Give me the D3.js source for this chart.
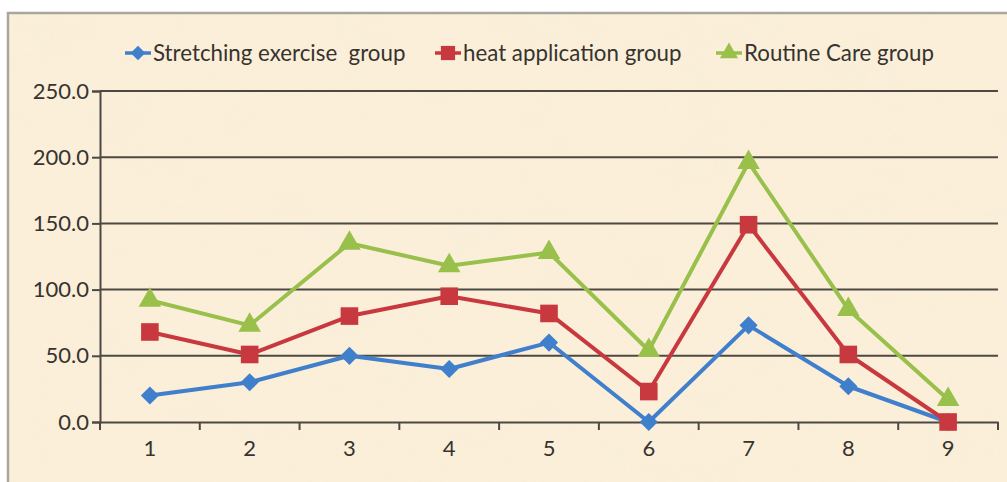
<!DOCTYPE html>
<head>
  <meta charset="utf-8">
  <title>Groups chart</title>
  <style>
    body { margin: 0; background: #fff; }
    text { font-family: Lato, "Open Sans", sans-serif; fill: #37332f; }
  </style>
</head>
<body>
  <script src="https://d3js.org/d3.v7.min.js"></script>
  <script>
  const categories = ["1", "2", "3", "4", "5", "6", "7", "8", "9"];
  const yTicks = [0, 50, 100, 150, 200, 250];
  const stretching = [20, 30, 50, 40, 60, 0, 73, 27, 0];
  const heat = [68, 51, 80, 95, 82, 23, 149, 51, 0];
  const routine = [92, 73, 135, 118, 128, 54, 196, 85, 17];
  const seriesNames = ["Stretching exercise  group", "heat application group", "Routine Care group"];

  // diamond = square turned 45deg
  const diamond = {
    draw(ctx, size) {
      const r = Math.sqrt(size / 2);
      ctx.moveTo(0, -r); ctx.lineTo(r, 0); ctx.lineTo(0, r); ctx.lineTo(-r, 0); ctx.closePath();
    }
  };

  const series = [
    { name: seriesNames[0], values: stretching, color: "#3f7fcc", symbol: diamond, size: 165 },
    { name: seriesNames[1], values: heat, color: "#c8393f", symbol: d3.symbolSquare, size: 310 },
    { name: seriesNames[2], values: routine, color: "#98c04a", symbol: d3.symbolTriangle, size: 220 }
  ];

  const W = 1007, H = 482;
  const svg = d3.select("body").append("svg").attr("width", W).attr("height", H);

  // parchment background
  const defs = svg.append("defs");
  const f = defs.append("filter").attr("id", "paper").attr("x", 0).attr("y", 0).attr("width", "100%").attr("height", "100%");
  f.append("feTurbulence").attr("type", "fractalNoise").attr("baseFrequency", "0.012 0.02").attr("numOctaves", 3).attr("seed", 4).attr("result", "n");
  f.append("feColorMatrix").attr("in", "n").attr("type", "matrix")
    .attr("values", "0 0 0 0 0.93  0 0 0 0 0.85  0 0 0 0 0.70  0 0 0 -1.1 0.75");

  svg.append("rect").attr("x", 8).attr("y", 13).attr("width", W - 8).attr("height", H - 13).attr("fill", "#fbefd9");
  svg.append("rect").attr("x", 8).attr("y", 13).attr("width", W - 8).attr("height", H - 13).attr("filter", "url(#paper)").attr("opacity", 0.5);
  svg.append("path").attr("d", `M8,${H}V13H${W}`).attr("fill", "none").attr("stroke", "#a9a6a1").attr("stroke-width", 2.5);

  const x = d3.scaleBand().domain(categories).range([100, 998]);
  const y = d3.scaleLinear().domain([0, 250]).range([422, 91]);

  // gridlines
  svg.append("g").selectAll("line").data(yTicks.slice(1)).join("line")
    .attr("x1", 100).attr("x2", 998)
    .attr("y1", d => y(d)).attr("y2", d => y(d))
    .attr("stroke", "#4d4842").attr("stroke-width", 2);

  const yAxis = svg.append("g").attr("transform", "translate(100,0)")
    .call(d3.axisLeft(y).tickValues(yTicks).tickFormat(d3.format(".1f")).tickSize(8).tickPadding(3));
  const xAxis = svg.append("g").attr("transform", "translate(0,422)")
    .call(d3.axisBottom(x).tickSize(0).tickPadding(18));
  // boundary ticks on x axis
  xAxis.selectAll(".bound").data(d3.range(categories.length + 1)).join("line").attr("class", "bound")
    .attr("x1", i => 100 + i * x.step()).attr("x2", i => 100 + i * x.step())
    .attr("y1", 0).attr("y2", 8).attr("stroke", "#4d4842").attr("stroke-width", 2);
  [yAxis, xAxis].forEach(a => {
    a.selectAll(".domain, .tick line").attr("stroke", "#4d4842").attr("stroke-width", 2);
    a.selectAll("text").attr("font-size", 22).attr("fill", "#37332f").attr("font-family", "Lato, sans-serif");
  });

  const line = d3.line().x((d, i) => x(categories[i]) + x.bandwidth() / 2).y(d => y(d));

  series.forEach(s => {
    svg.append("path").datum(s.values).attr("d", line)
      .attr("fill", "none").attr("stroke", s.color).attr("stroke-width", 4).attr("stroke-linejoin", "round");
  });
  series.forEach(s => {
    svg.append("g").selectAll("path").data(s.values).join("path")
      .attr("d", d3.symbol().type(s.symbol).size(s.size))
      .attr("transform", (d, i) => `translate(${x(categories[i]) + x.bandwidth() / 2},${y(d)})`)
      .attr("fill", s.color);
  });

  // legend
  const legendX = [125, 435, 716];
  const lg = svg.append("g").selectAll("g").data(series).join("g")
    .attr("transform", (d, i) => `translate(${legendX[i]},53)`);
  lg.append("line").attr("x1", 0).attr("x2", 26).attr("stroke", d => d.color).attr("stroke-width", 3.5);
  lg.append("path").attr("d", d => d3.symbol().type(d.symbol).size(d.size * 0.65)()).attr("transform", "translate(13,0)").attr("fill", d => d.color);
  lg.append("text").attr("x", 28).attr("dy", "0.35em").attr("font-size", 22.3).text(d => d.name).style("white-space", "pre");
  </script>
</body>
</html>
